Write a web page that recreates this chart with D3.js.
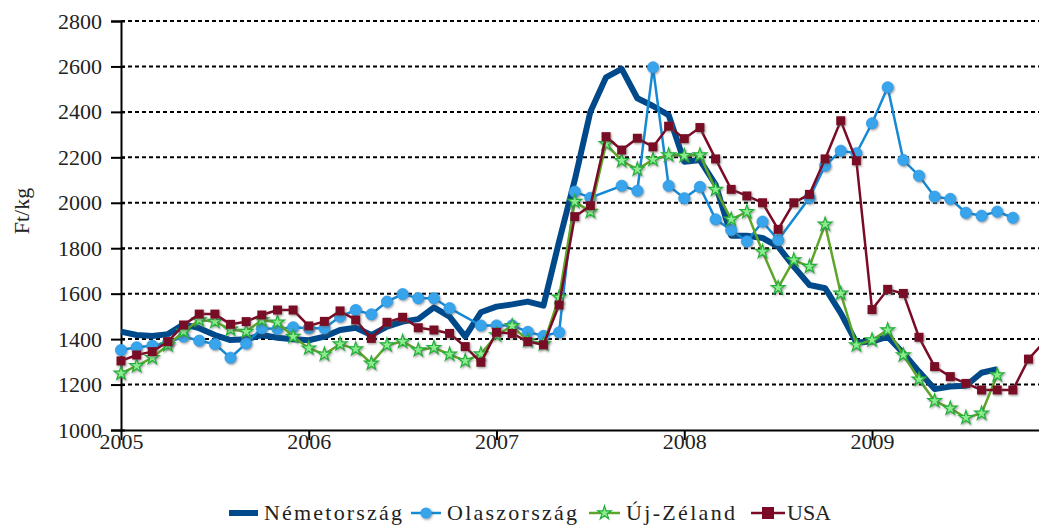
<!DOCTYPE html>
<html>
<head>
<meta charset="utf-8">
<script src="https://cdn.jsdelivr.net/npm/d3@7"></script>
<style>
body { margin: 0; background: #fff; }
svg { display: block; }
svg text { font-family: "Liberation Serif", "Times New Roman", Times, serif; }
</style>
</head>
<body>
<div class="chart"></div>
<script>
// monthly prices, Ft/kg, starting January 2005
var years = ["2005", "2006", "2007", "2008", "2009"];
var yTicks = [1000, 1200, 1400, 1600, 1800, 2000, 2200, 2400, 2600, 2800];
var seriesNames = ["Németország", "Olaszország", "Új-Zéland", "USA"];

var germany = [1433, 1418, 1414, 1422, 1465, 1448, 1418, 1396, 1399, 1418, 1406, 1399,
    1395, 1411, 1440, 1450, 1418, 1455, 1477, 1488, 1540, 1499, 1411, 1518,
    1543, 1553, 1565, 1547, 1830, 2100, 2401, 2552, 2589, 2460, 2426, 2386,
    2181, 2188, 2080, 1855, 1855, 1845, 1807, 1719, 1638, 1624, 1514, 1385,
    1389, 1411, 1338, 1257, 1180, 1191, 1195, 1252, 1268];

var italy = [1352, 1364, 1371, 1384, 1411, 1393, 1378, 1318, 1381, 1448, 1445, 1452,
    1448, 1448, 1499, 1528, 1509, 1565, 1598, 1580, 1580, 1536, null, 1460,
    1460, 1460, 1432, 1414, 1430, 2049, 2022, null, 2075, 2053, 2596, 2075,
    2020, 2070, 1927, 1880, 1830, 1917, 1836, null, 2022, 2163, 2229, 2218,
    2350, 2508, 2188, 2119, 2027, 2017, 1956, 1943, 1961, 1934];

var newZealand = [1249, 1282, 1318, 1374, 1433, 1484, 1477, 1443, 1433, 1484, 1474, 1411,
    1360, 1333, 1378, 1356, 1293, 1374, 1389, 1352, 1362, 1333, 1304, 1334,
    1418, 1458, 1393, 1378, 1584, 2005, 1961, 2259, 2185, 2147, 2190, 2210,
    2207, 2210, 2058, 1927, 1960, 1785, 1626, 1748, 1719, 1905, 1601, 1374,
    1396, 1440, 1330, 1223, 1128, 1095, 1054, 1073, 1242];

var usa = [1304, 1330, 1345, 1389, 1462, 1510, 1510, 1465, 1477, 1506, 1528, 1528,
    1458, 1478, 1524, 1484, 1403, 1474, 1496, 1450, 1440, 1425, 1367, 1298,
    1430, 1425, 1389, 1375, 1550, 1939, 1987, 2291, 2232, 2284, 2246, 2337,
    2282, 2331, 2193, 2059, 2030, 2000, 1883, 2000, 2037, 2193, 2361, 2185,
    1530, 1619, 1601, 1408, 1279, 1235, 1205, 1176, 1176, 1176, 1312, 1388];

var svgWidth = 1039;
var svgHeight = 525;
var textFont = "'Liberation Serif', 'Times New Roman', Times, serif";

var svg = d3.select(".chart").append("svg")
    .attr("width", svgWidth).attr("height", svgHeight);

// drop shadow for the markers
var shadow = svg.append("defs").append("filter").attr("id", "shadow")
    .attr("x", "-50%").attr("y", "-50%").attr("width", "200%").attr("height", "200%");
shadow.append("feDropShadow").attr("dx", 1).attr("dy", 1.2)
    .attr("stdDeviation", 0.8).attr("flood-color", "#555").attr("flood-opacity", 0.6);

// one month = one unit, 2010 lies just past the right edge
var xScale = d3.scaleLinear().domain([0, 60]).range([121, 1059.8]);
var yScale = d3.scaleLinear().domain([1000, 2800]).range([430, 21]);

// dotted gridlines
svg.append("g").selectAll("line")
    .data(yTicks.slice(1)).enter().append("line")
    .attr("x1", xScale(0)).attr("x2", svgWidth)
    .attr("y1", d => yScale(d)).attr("y2", d => yScale(d))
    .attr("stroke", "#000").attr("stroke-width", 2)
    .attr("stroke-dasharray", "4,3");

// y axis
var leftAxis = d3.axisLeft(yScale).tickValues(yTicks)
    .tickFormat(d3.format("d")).tickSize(10).tickPadding(9);
var yAxis = svg.append("g").attr("transform", `translate(${xScale(0)},0)`).call(leftAxis);
yAxis.attr("font-family", null);
yAxis.select(".domain").attr("stroke-width", 2);
yAxis.selectAll(".tick line").attr("x1", 4).attr("stroke-width", 2);
yAxis.selectAll(".tick text").attr("font-size", "22px")
    .style("font-family", textFont).attr("fill", "#222");

// x axis
var bottomAxis = d3.axisBottom(xScale)
    .tickValues(years.map((d, i) => i * 12))
    .tickFormat((d, i) => years[i])
    .tickSize(10).tickSizeOuter(0).tickPadding(-7);
var xAxis = svg.append("g").attr("transform", `translate(0,${yScale(1000)})`).call(bottomAxis);
xAxis.attr("font-family", null);
xAxis.select(".domain").attr("stroke-width", 2);
xAxis.selectAll(".tick line").attr("stroke-width", 2);
xAxis.selectAll(".tick text").attr("font-size", "22px")
    .style("font-family", textFont).attr("fill", "#222");

svg.append("text")
    .attr("transform", "translate(29,211) rotate(-90)")
    .attr("text-anchor", "middle")
    .attr("font-size", "22px")
    .style("font-family", textFont)
    .attr("fill", "#222")
    .text("Ft/kg");

function toPoints(values) {
    return values.map((v, i) => ({ m: i, v: v })).filter(d => d.v != null);
}

var line = d3.line().x(d => xScale(d.m)).y(d => yScale(d.v));

var starPath = d3.symbol().type(d3.symbolStar).size(58)();
var plot = svg.append("g");

// Németország: thick line, no markers
plot.append("path").datum(toPoints(germany))
    .attr("d", line).attr("fill", "none")
    .attr("stroke", "#004a8b").attr("stroke-width", 6)
    .attr("stroke-linejoin", "round");

// Olaszország
plot.append("path").datum(toPoints(italy))
    .attr("d", line).attr("fill", "none")
    .attr("stroke", "#1489d4").attr("stroke-width", 2.5);
plot.append("g").attr("filter", "url(#shadow)").selectAll("circle")
    .data(toPoints(italy)).enter().append("circle")
    .attr("cx", d => xScale(d.m)).attr("cy", d => yScale(d.v))
    .attr("r", 5.6).attr("fill", "#38a4ec").attr("stroke", "#2b9be6").attr("stroke-width", 0.8);

// Új-Zéland
plot.append("path").datum(toPoints(newZealand))
    .attr("d", line).attr("fill", "none")
    .attr("stroke", "#5ea52a").attr("stroke-width", 2.5);
plot.append("g").attr("filter", "url(#shadow)").selectAll("path")
    .data(toPoints(newZealand)).enter().append("path")
    .attr("d", starPath)
    .attr("transform", d => `translate(${xScale(d.m)},${yScale(d.v)})`)
    .attr("fill", "#8ceb8c").attr("stroke", "#22b03a").attr("stroke-width", 1.2);

// USA
plot.append("path").datum(toPoints(usa))
    .attr("d", line).attr("fill", "none")
    .attr("stroke", "#7a0a26").attr("stroke-width", 2.5);
plot.append("g").attr("filter", "url(#shadow)").selectAll("rect")
    .data(toPoints(usa)).enter().append("rect")
    .attr("x", d => xScale(d.m) - 4.5).attr("y", d => yScale(d.v) - 4.5)
    .attr("width", 9).attr("height", 9)
    .attr("fill", "#7a0a26");

// legend
var legendY = 513;
var legend = svg.append("g");
var legendItems = [
    { x1: 229, x2: 258, tx: 264, tw: 138 },
    { x1: 411, x2: 441, tx: 447, tw: 130 },
    { x1: 589, x2: 620, tx: 626, tw: 109 },
    { x1: 751, x2: 785, tx: 787, tw: 44 }
];
var legendColors = ["#004a8b", "#1489d4", "#5ea52a", "#7a0a26"];

legendItems.forEach(function(item, i) {
    legend.append("line")
        .attr("x1", item.x1).attr("x2", item.x2)
        .attr("y1", legendY).attr("y2", legendY)
        .attr("stroke", legendColors[i]).attr("stroke-width", i === 0 ? 6 : 2.5);
    var cx = (item.x1 + item.x2) / 2;
    if (i === 1) {
        legend.append("circle").attr("cx", cx).attr("cy", legendY).attr("r", 5.6)
            .attr("fill", "#38a4ec").attr("filter", "url(#shadow)");
    } else if (i === 2) {
        legend.append("path").attr("d", starPath)
            .attr("transform", `translate(${cx},${legendY})`)
            .attr("fill", "#8ceb8c").attr("stroke", "#22b03a").attr("stroke-width", 1.2);
    } else if (i === 3) {
        legend.append("rect").attr("x", cx - 6).attr("y", legendY - 6)
            .attr("width", 12).attr("height", 12).attr("fill", "#7a0a26");
    }
    legend.append("text")
        .attr("x", item.tx).attr("y", legendY + 7)
        .attr("font-size", "22px").style("font-family", textFont).attr("fill", "#222")
        .attr("textLength", item.tw).attr("lengthAdjust", "spacing")
        .text(seriesNames[i]);
});
</script>
</body>
</html>
